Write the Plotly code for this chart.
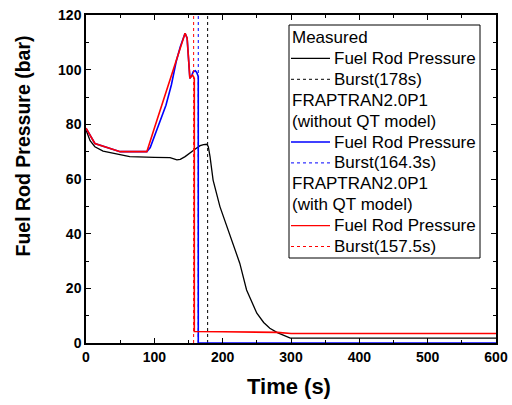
import plotly.graph_objects as go

# measured fuel rod pressure (bar) vs time (s)
t_meas = [0, 1, 6, 13, 25, 40, 64, 100, 123, 133, 138, 145, 152, 160, 167, 172, 177, 179, 181.5, 186,
          196, 211, 225, 235, 250, 260, 269, 280, 299, 400, 500, 600]
p_meas = [77.8, 77.3, 74.0, 71.8, 70.2, 69.4, 68.2, 67.9, 67.8, 67.0, 67.2, 68.2, 69.6, 71.0, 72.2, 72.6, 72.7, 71.8, 68.2, 59.6,
          49.9, 38.9, 29.2, 19.4, 10.9, 7.5, 5.4, 3.8, 1.8, 1.8, 1.8, 1.8]

# FRAPTRAN2.0P1 without QT model
t_noqt = [0, 13, 50, 89, 94, 102, 110, 117, 125, 132, 138, 142, 145, 148, 150, 152, 155, 157, 160, 162, 164.3, 164.3, 300, 600]
p_noqt = [78.6, 73.0, 70.0, 70.0, 71.5, 76.7, 82.5, 87.0, 94.5, 103.0, 108.4, 111.6, 113.3, 111.5, 104.0, 96.8, 98.0, 99.3, 99.6, 99.0, 97.5, 0, 0, 0]

# FRAPTRAN2.0P1 with QT model
t_qt = [0, 13, 50, 89, 100, 113, 125, 138, 142, 145, 148, 150, 152, 154, 156, 158.5, 158.5, 200, 280, 300, 600]
p_qt = [78.6, 73.0, 70.0, 70.0, 78.6, 88.7, 98.0, 108.4, 111.6, 113.3, 111.5, 104.0, 96.8, 97.5, 98.0, 96.8, 4.2, 4.1, 3.9, 3.5, 3.5]

burst_meas = 178
burst_noqt = 164.3
burst_qt = 157.5
burst_span = [0, 120]

FONTE = 'Liberation Sans, Arial'

# plot area in pixels
PX0, PX1, PY0, PY1 = 86, 496, 15, 343


def px_x(px):
    return (px - PX0) / (PX1 - PX0)


def px_y(py):
    return (PY1 - py) / (PY1 - PY0)


fig = go.Figure(layout=go.Layout(width=512, height=405))

fig.add_trace(go.Scatter(x=t_meas, y=p_meas, mode='lines', line=dict(color='black', width=1.3)))
fig.add_trace(go.Scatter(x=[burst_meas, burst_meas], y=burst_span, mode='lines',
                         line=dict(color='black', width=1, dash='dot')))
fig.add_trace(go.Scatter(x=t_noqt, y=p_noqt, mode='lines', line=dict(color='#0000ff', width=1.6)))
fig.add_trace(go.Scatter(x=[burst_noqt, burst_noqt], y=burst_span, mode='lines',
                         line=dict(color='#0000ff', width=1, dash='dot')))
fig.add_trace(go.Scatter(x=t_qt, y=p_qt, mode='lines', line=dict(color='#ff0000', width=1.6)))
fig.add_trace(go.Scatter(x=[burst_qt, burst_qt], y=burst_span, mode='lines',
                         line=dict(color='#ff0000', width=1, dash='dot')))

# legend drawn by hand: (text, line colour or None, dash)
linhas_legenda = [
    ('Measured', None, None),
    ('Fuel Rod Pressure', 'black', 'solid'),
    ('Burst(178s)', 'black', 'dot'),
    ('FRAPTRAN2.0P1', None, None),
    ('(without QT model)', None, None),
    ('Fuel Rod Pressure', '#0000ff', 'solid'),
    ('Burst(164.3s)', '#0000ff', 'dot'),
    ('FRAPTRAN2.0P1', None, None),
    ('(with QT model)', None, None),
    ('Fuel Rod Pressure', '#ff0000', 'solid'),
    ('Burst(157.5s)', '#ff0000', 'dot'),
]

shapes = [dict(type='rect', xref='paper', yref='paper', x0=px_x(289), x1=px_x(480), y0=px_y(258), y1=px_y(25),
               line=dict(color='black', width=1), fillcolor='white', layer='above')]
annotations = []
for i, (texto, cor, traco) in enumerate(linhas_legenda):
    yc = 37.5 + i * 20.9
    if cor is None:
        annotations.append(dict(text=texto, xref='paper', yref='paper', x=px_x(290), y=px_y(yc),
                                xanchor='left', yanchor='middle', showarrow=False,
                                font=dict(size=17, family=FONTE, color='black')))
    else:
        shapes.append(dict(type='line', xref='paper', yref='paper', x0=px_x(291), x1=px_x(330),
                           y0=px_y(yc), y1=px_y(yc), layer='above',
                           line=dict(color=cor, width=1.3 if traco == 'solid' else 1, dash=traco)))
        annotations.append(dict(text=texto, xref='paper', yref='paper', x=px_x(332), y=px_y(yc),
                                xanchor='left', yanchor='middle', showarrow=False,
                                font=dict(size=17, family=FONTE, color='black')))

annotations.append(dict(text='Time (s)', xref='paper', yref='paper', x=px_x(289), y=px_y(386),
                        xanchor='center', yanchor='middle', showarrow=False,
                        font=dict(size=22, family=FONTE, color='black', weight='bold')))
annotations.append(dict(text='Fuel Rod Pressure (bar)', xref='paper', yref='paper', x=px_x(22), y=px_y(146.5),
                        textangle=-90, xanchor='center', yanchor='middle', showarrow=False,
                        font=dict(size=19.5, family=FONTE, color='black', weight='bold')))

eixo = dict(showgrid=False, zeroline=False, showline=True, linecolor='black', linewidth=1.5,
            mirror='ticks', ticks='inside', ticklen=5, tickcolor='black', tickwidth=1.2,
            tickfont=dict(family=FONTE, size=14, color='black', weight='bold'))

fig.update_layout(
    margin=dict(l=86, r=16, t=15, b=62, autoexpand=False),
    plot_bgcolor='white', paper_bgcolor='white',
    font=dict(family=FONTE, color='black'),
    showlegend=False,
    xaxis=dict(eixo, range=[0, 600], dtick=100, tick0=0,
               minor=dict(ticks='inside', ticklen=3, dtick=50, tickcolor='black')),
    yaxis=dict(eixo, range=[0, 120], dtick=20, tick0=0,
               minor=dict(ticks='inside', ticklen=3, dtick=10, tickcolor='black')),
    shapes=shapes,
    annotations=annotations,
)

# the page body has a default 8px margin; remove it so the figure sits at the window corner
fig.write_html("out.html", config={'displayModeBar': False},
               post_script="document.body.style.margin='0';")
